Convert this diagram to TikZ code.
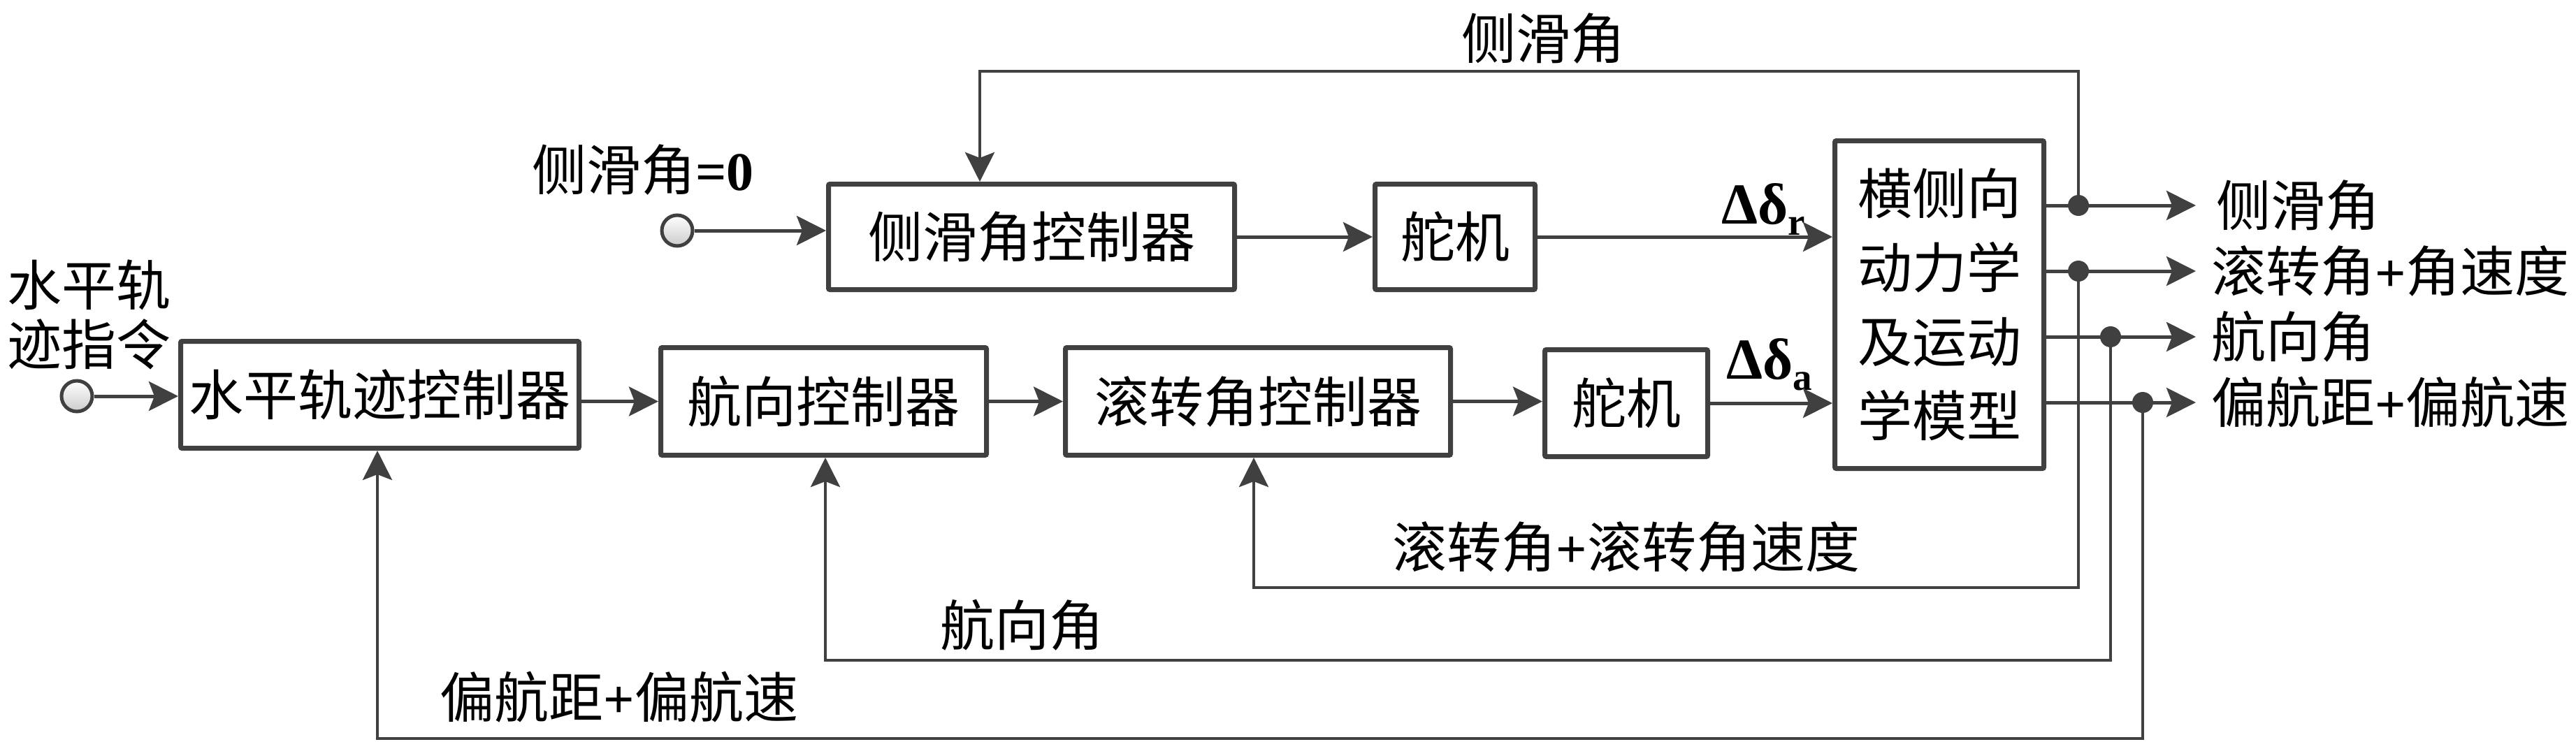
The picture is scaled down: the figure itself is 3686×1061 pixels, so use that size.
\documentclass[tikz,border=0pt]{standalone}
\usepackage{fontspec}
\setmainfont{Liberation Serif}
\newfontfamily\cjk{Noto Sans CJK SC}
\usetikzlibrary{arrows.meta}
\definecolor{lc}{RGB}{64,64,64}
\newcommand\myfs{\fontsize{78pt}{106pt}\selectfont}
\newcommand\tb[1]{{\rmfamily\bfseries #1}}
\begin{document}
\begin{tikzpicture}[x=1pt,y=-1pt,
  box/.style={draw=lc, line width=7pt, rounded corners=2pt, inner sep=0pt, font=\cjk\myfs, align=center},
  arr/.style={draw=lc, line width=5pt, -{Stealth[length=42pt,width=42pt,inset=8pt]}},
  fbarr/.style={draw=lc, line width=4.5pt, -{Stealth[length=42pt,width=42pt,inset=8pt]}},
  lbl/.style={inner sep=0pt, font=\cjk\myfs},
  dot/.style={circle, fill=lc, minimum size=30pt, inner sep=0pt},
  src/.style={circle, draw=lc, line width=5pt, top color=white, bottom color=gray!40, minimum size=44pt, inner sep=0pt}
]
\useasboundingbox (0,0) rectangle (3686,1061);

% blocks
\node[box, minimum width=570pt, minimum height=153pt] (b1) at (543.5,565) {水平轨迹控制器};
\node[box, minimum width=466pt, minimum height=154pt] (b2) at (1178.5,574.5) {航向控制器};
\node[box, minimum width=551pt, minimum height=154pt] (b3) at (1800,574.5) {滚转角控制器};
\node[box, minimum width=233pt, minimum height=153pt] (b4) at (2327,577) {舵机};
\node[box, minimum width=581pt, minimum height=151pt] (b5) at (1476,339) {侧滑角控制器};
\node[box, minimum width=229pt, minimum height=151pt] (b6) at (2082,339) {舵机};
\node[box, minimum width=299pt, minimum height=469pt] (b7) at (2775,436) {横侧向\\动力学\\及运动\\学模型};

% sources
\node[src] (s1) at (110,567) {};
\node[src] (s2) at (969,330) {};

% labels
\node[lbl] (l0) at (2208,55) {侧滑角};
\node[lbl] (l1) at (920,243) {侧滑角\tb{=0}};
\node[inner sep=0pt, align=left, font=\cjk\fontsize{78pt}{85pt}\selectfont] (l2) at (127,450) {水平轨\\迹指令};
\node[inner sep=0pt, anchor=base west, font=\rmfamily\bfseries\fontsize{83pt}{90pt}\selectfont] (dr) at (2463,320) {Δδ\raisebox{-16pt}{\fontsize{55pt}{60pt}\selectfont r}};
\node[inner sep=0pt, anchor=base west, font=\rmfamily\bfseries\fontsize{83pt}{90pt}\selectfont] (da) at (2470,542) {Δδ\raisebox{-16pt}{\fontsize{55pt}{60pt}\selectfont a}};
\node[lbl, anchor=west] (r1) at (3171,294) {侧滑角};
\node[lbl, anchor=west] (r2) at (3164,388) {滚转角\tb{+}角速度};
\node[lbl, anchor=west] (r3) at (3164,482) {航向角};
\node[lbl, anchor=west] (r4) at (3164,576) {偏航距\tb{+}偏航速};
\node[lbl] (lr) at (2327,783) {滚转角\tb{+}滚转角速度};
\node[lbl] (lh) at (1462,895) {航向角};
\node[lbl] (ly) at (886,998) {偏航距\tb{+}偏航速};

% output points
\coordinate (o1) at (3142,294);
\coordinate (o2) at (3142,388);
\coordinate (o3) at (3142,482);
\coordinate (o4) at (3142,576);
\coordinate (t1) at (1402,102);
\coordinate (t2) at (1794,841);
\coordinate (t3) at (1181,945);
\coordinate (t4) at (540,1057);

% forward path
\draw[arr] (s1) -- (s1 -| b1.west);
\draw[arr] (b2.west -| b1.east) -- (b2.west);
\draw[arr] (b2) -- (b3);
\draw[arr] (b3.east) -- (b3.east -| b4.west);
\draw[arr] (b4.east) -- (b4.east -| b7.west);
\draw[arr] (s2) -- (s2 -| b5.west);
\draw[arr] (b5) -- (b6);
\draw[arr] (b6.east) -- (b6.east -| b7.west);

% outputs
\draw[arr] (o1 -| b7.east) -- (o1);
\draw[arr] (o2 -| b7.east) -- (o2);
\draw[arr] (o3 -| b7.east) -- (o3);
\draw[arr] (o4 -| b7.east) -- (o4);

% branch dots
\node[dot] (d1) at (2974,294) {};
\node[dot] (d2) at (2974,388) {};
\node[dot] (d3) at (3020,482) {};
\node[dot] (d4) at (3066,576) {};

% feedback
\draw[fbarr] (d1.center) |- (t1) -- (t1 |- b5.north);
\draw[fbarr] (d2.center) |- (t2) -- (t2 |- b3.south);
\draw[fbarr] (d3.center) |- (t3) -- (t3 |- b2.south);
\draw[fbarr] (d4.center) |- (t4) -- (t4 |- b1.south);
\end{tikzpicture}
\end{document}
